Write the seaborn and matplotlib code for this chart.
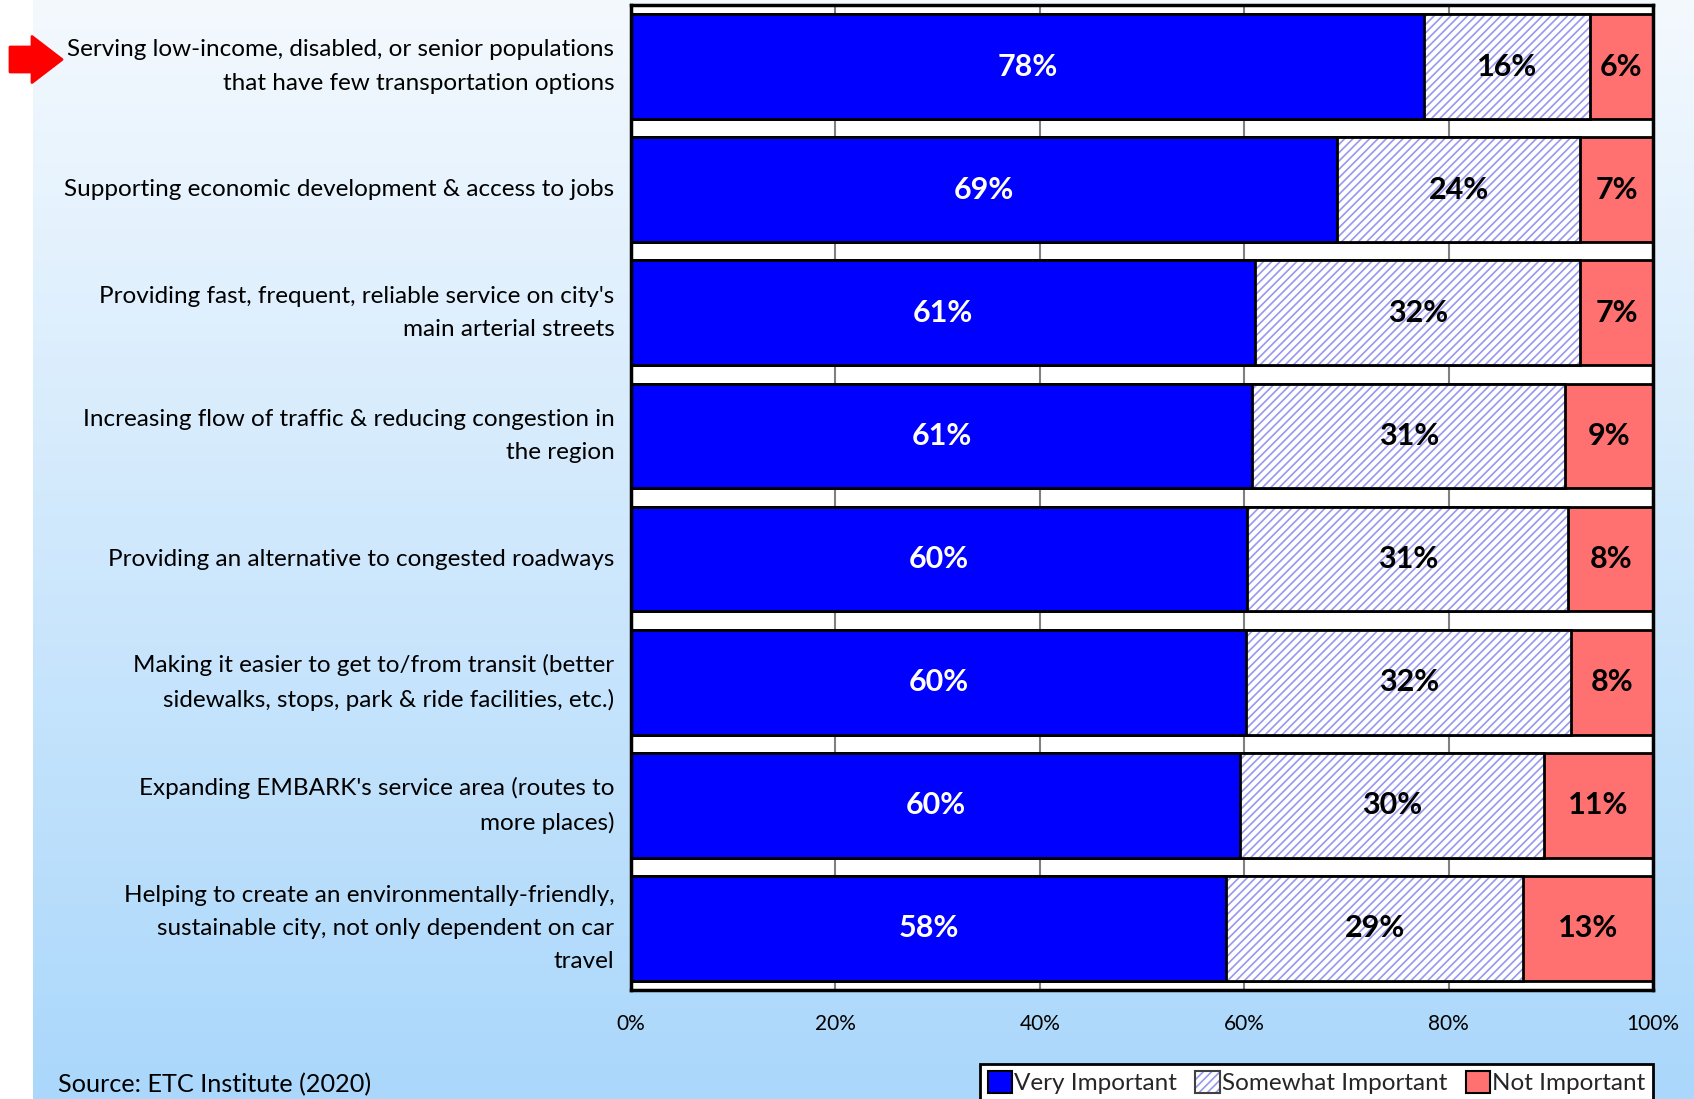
import numpy as np
import pandas as pd
import matplotlib
matplotlib.use("Agg")
import matplotlib.pyplot as plt
from matplotlib.patches import Patch, FancyArrow
from matplotlib.transforms import IdentityTransform
import seaborn as sns

# Survey: importance of transit priorities (percent of respondents)
categories = [
    "Serving low-income, disabled, or senior populations\nthat have few transportation options",
    "Supporting economic development & access to jobs",
    "Providing fast, frequent, reliable service on city's\nmain arterial streets",
    "Increasing flow of traffic & reducing congestion in\nthe region",
    "Providing an alternative to congested roadways",
    "Making it easier to get to/from transit (better\nsidewalks, stops, park & ride facilities, etc.)",
    "Expanding EMBARK's service area (routes to\nmore places)",
    "Helping to create an environmentally-friendly,\nsustainable city, not only dependent on car\ntravel",
]
very_important = [77.6, 69.1, 61.1, 60.8, 60.3, 60.2, 59.6, 58.2]
somewhat_important = [16.2, 23.8, 31.8, 30.6, 31.4, 31.8, 29.7, 29.1]
not_important = [6.2, 7.1, 7.1, 8.6, 8.3, 8.0, 10.7, 12.7]

series_names = ["Very Important", "Somewhat Important", "Not Important"]
x_ticks = [0, 20, 40, 60, 80, 100]
x_tick_labels = ["0%", "20%", "40%", "60%", "80%", "100%"]
source_note = "Source: ETC Institute (2020)"

BLUE = "#0000ff"
RED = "#ff7171"
HATCH_LINE = "#9797ee"
FONT = ["Lato", "DejaVu Sans"]

df = pd.DataFrame({
    "category": categories,
    "very": very_important,
    "somewhat": somewhat_important,
    "not": not_important,
})
df["upto_somewhat"] = df["very"] + df["somewhat"]
df["upto_not"] = df["upto_somewhat"] + df["not"]

sns.set_theme(style="white")
plt.rcParams["font.family"] = FONT
plt.rcParams["hatch.linewidth"] = 1.2

W, H = 1694, 1099
fig = plt.figure(figsize=(W / 100, H / 100), dpi=100, facecolor="white")

# vertical light-blue gradient backdrop (white strip on the far left)
bg = fig.add_axes([33 / W, 0, 1 - 33 / W, 1], zorder=-10)
top = np.array([0xf4, 0xf9, 0xfe]) / 255
bot = np.array([0xaa, 0xd7, 0xfb]) / 255
t = np.linspace(0, 1, 512)[:, None, None]
grad = top * (1 - t) + bot * t
bg.imshow(grad, aspect="auto", extent=[0, 1, 0, 1])
bg.set_axis_off()

ax = fig.add_axes([631 / W, 1 - 990 / H, (1653 - 631) / W, (990 - 5) / H])
ax.set_facecolor("white")

bw = 0.85
common = dict(data=df, y="category", orient="h", errorbar=None, width=bw,
              saturation=1, ax=ax)
# stacked bars drawn as overlapping cumulative layers
sns.barplot(x="upto_not", color=RED, edgecolor="black", linewidth=2, **common)
sns.barplot(x="upto_somewhat", color="white", edgecolor=HATCH_LINE,
            linewidth=0, hatch="////", **common)
sns.barplot(x="upto_somewhat", color="black", fill=False, linewidth=2, **common)
sns.barplot(x="very", color=BLUE, edgecolor="black", linewidth=2, **common)

# segment value labels
lab_kw = dict(ha="center", va="center", fontsize=22, fontweight="bold", family=FONT)
for i, row in df.iterrows():
    ax.text(row["very"] / 2, i, f"{row['very']:.0f}%", color="white", **lab_kw)
    ax.text(row["very"] + row["somewhat"] / 2, i, f"{row['somewhat']:.0f}%",
            color="black", **lab_kw)
    ax.text(row["upto_somewhat"] + row["not"] / 2, i, f"{row['not']:.0f}%",
            color="black", **lab_kw)

ax.set_xlim(0, 100)
ax.set_ylim(len(categories) - 0.5, -0.5)
ax.set_xticks(x_ticks)
ax.set_xticklabels(x_tick_labels)
ax.set_xlabel("")
ax.set_ylabel("")
ax.set_axisbelow(True)
ax.xaxis.grid(True, color="#808080", linewidth=1.5)
ax.yaxis.grid(False)
ax.tick_params(axis="x", length=0, pad=17, labelsize=15, colors="black")
ax.tick_params(axis="y", length=0, pad=12, labelsize=17.5, colors="black")
for lab in ax.get_yticklabels():
    lab.set_horizontalalignment("right")
    lab.set_verticalalignment("center")
    lab.set_multialignment("right")
    lab.set_linespacing(1.72)
for sp in ax.spines.values():
    sp.set_visible(True)
    sp.set_color("black")
    sp.set_linewidth(2.5)

# legend below the plot, right aligned with the axes
h_very = Patch(facecolor=BLUE, edgecolor="black", linewidth=1.5)
h_some = (Patch(facecolor="white", edgecolor=HATCH_LINE, linewidth=0, hatch="////"),
          Patch(facecolor="none", edgecolor="#404040", linewidth=1.5))
h_not = Patch(facecolor=RED, edgecolor="black", linewidth=1.5)
leg = ax.legend([h_very, h_some, h_not], series_names, loc="upper right",
                bbox_to_anchor=(1653 / W, 1 - 1064 / H),
                bbox_transform=fig.transFigure, ncol=3, fontsize=17.5,
                frameon=True, fancybox=False, edgecolor="black",
                facecolor="white", framealpha=1, handlelength=1.0,
                handleheight=1.0, handletextpad=0.1, columnspacing=0.75,
                borderpad=0.3, borderaxespad=0)
leg.get_frame().set_linewidth(2)

fig.text(58 / W, 1 - 1085 / H, source_note, ha="left", va="center",
         fontsize=18.2, color="black", family=FONT)

# red pointer arrow beside the first item
arrow = FancyArrow(10, H - 59.5, 52, 0, width=25, head_width=46,
                   head_length=30, length_includes_head=True,
                   transform=IdentityTransform(), facecolor="#ff0000",
                   edgecolor="#ff0000", linewidth=2, joinstyle="round")
fig.patches.append(arrow)

fig.savefig("out.png", dpi=100, facecolor=fig.get_facecolor())
